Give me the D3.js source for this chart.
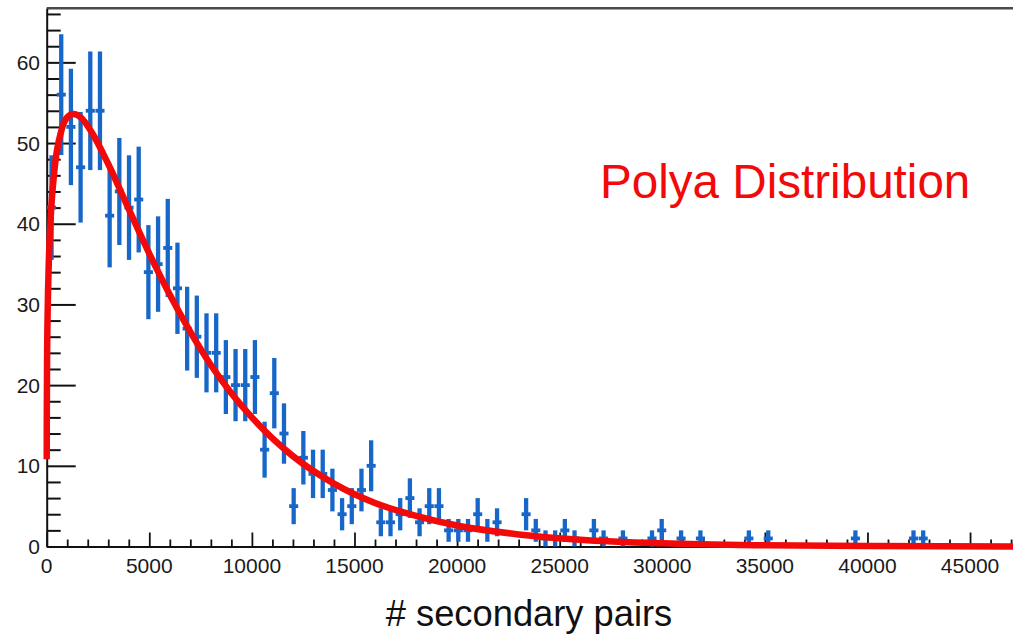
<!DOCTYPE html>
<html>
<head>
<meta charset="utf-8">
<script src="https://cdn.jsdelivr.net/npm/d3@7"></script>
<style>
  html, body { margin: 0; padding: 0; background: #fff; }
  svg { display: block; }
  text { font-family: "Liberation Sans", Arial, Helvetica, sans-serif; }
</style>
</head>
<body>
<div id="chart"></div>
<script>
// ---------- data ----------
const binWidth = 472;            // width of each histogram bin (# secondary pairs)
const binCount = 100;
// counts per bin, bin i covers [i*binWidth, (i+1)*binWidth)
const counts = [
  42, 56, 52, 47, 54, 54, 41, 44, 42, 43,
  34, 35, 37, 32, 27, 26, 24, 24, 21, 20,
  20, 21, 12, 19, 14, 5, 11, 9, 9, 7,
  4, 5, 7, 10, 3, 3, 4, 6, 3, 5,
  5, 2, 2, 2, 4, 2, 3, 0, 0, 4,
  2, 1, 1, 2, 1, 0, 2, 1, 0, 1,
  0, 0, 1, 2, 0, 1, 0, 1, 0, 0,
  0, 0, 1, 0, 1, 0, 0, 0, 0, 0,
  0, 0, 0, 1, 0, 0, 0, 0, 0, 1,
  1, 0, 0, 0, 0, 0, 0, 0, 0, 0
];
// Polya fit curve
const fitX = [1, 5, 20, 50, 100, 200, 400, 700, 1000, 1300, 1700, 2200, 3000, 4000, 5000,
  6000, 7000, 8000, 9000, 10000, 12000, 14000, 16000, 18000, 20000, 23000, 26000,
  30000, 35000, 40000, 47200];
const fitY = [10.8, 16.4, 23.5, 29.5, 35.0, 41.0, 47.2, 51.4, 53.2, 53.6, 53.1, 51.3, 47.4, 41.8, 36.3,
  31.2, 26.6, 22.5, 19.0, 16.0, 11.2, 7.8, 5.4, 3.8, 2.6, 1.5, 0.84,
  0.39, 0.15, 0.06, 0.01];
const xMajorTicks = [0, 5000, 10000, 15000, 20000, 25000, 30000, 35000, 40000, 45000];
const yMajorTicks = [0, 10, 20, 30, 40, 50, 60];
const xTitle = "# secondary pairs";
const fitLabel = "Polya Distribution";

// ---------- layout ----------
const W = 1013, H = 634;
const svg = d3.select("#chart").append("svg").attr("width", W).attr("height", H);

const x = d3.scaleLinear().domain([0, binWidth * binCount]).range([46.7, 1015.2]);
const y = d3.scaleLinear().domain([0, 66.7]).range([546.5, 8.3]);

const blue = "#1767c9";
const red = "#f20a0a";

// top frame line
svg.append("line")
  .attr("x1", x(0)).attr("x2", W).attr("y1", y(66.7)).attr("y2", y(66.7))
  .attr("stroke", "#4a4a4a").attr("stroke-width", 2.5);

// y axis
const yAxisG = svg.append("g").attr("transform", `translate(${x(0)},0)`);
yAxisG.call(d3.axisRight(y).tickValues(d3.range(0, 67, 2)).tickSize(0).tickFormat(""));
yAxisG.select(".domain").attr("stroke", "#111").attr("stroke-width", 2);
yAxisG.selectAll(".tick line")
  .attr("x2", d => (d % 10 === 0 ? 29 : 14))
  .attr("stroke", "#111").attr("stroke-width", 2);
svg.append("g").selectAll("text").data(yMajorTicks).join("text")
  .attr("x", 40).attr("y", d => y(d) + 7.5)
  .attr("text-anchor", "end").attr("font-size", 21).attr("fill", "#1a1a1a")
  .text(d => d);

// x axis
const xAxisG = svg.append("g").attr("transform", `translate(0,${y(0)})`);
xAxisG.call(d3.axisTop(x).tickValues(d3.range(0, 47001, 1000)).tickSize(0).tickFormat(""));
xAxisG.select(".domain").attr("stroke", "#111").attr("stroke-width", 2);
xAxisG.selectAll(".tick line")
  .attr("y2", d => (d % 5000 === 0 ? -14 : -7))
  .attr("stroke", "#111").attr("stroke-width", 1.8);
svg.append("g").selectAll("text").data(xMajorTicks).join("text")
  .attr("x", d => x(d)).attr("y", 573)
  .attr("text-anchor", "middle").attr("font-size", 21).attr("fill", "#1a1a1a")
  .text(d => d);

// axis title
svg.append("text")
  .attr("x", 529).attr("y", 626)
  .attr("text-anchor", "middle").attr("font-size", 36.3).attr("fill", "#111")
  .text(xTitle);

// ---------- histogram error bars ----------
const bins = counts.map((c, i) => ({ c, x0: i * binWidth, x1: (i + 1) * binWidth, xc: (i + 0.5) * binWidth }))
  .filter(d => d.c > 0);
const hg = svg.append("g");
hg.selectAll("line.v").data(bins).join("line").attr("class", "v")
  .attr("x1", d => x(d.xc)).attr("x2", d => x(d.xc))
  .attr("y1", d => y(d.c + Math.sqrt(d.c))).attr("y2", d => y(Math.max(0, d.c - Math.sqrt(d.c))))
  .attr("stroke", blue).attr("stroke-width", 4.3);
hg.selectAll("line.h").data(bins).join("line").attr("class", "h")
  .attr("x1", d => x(d.x0) + 0.3).attr("x2", d => x(d.x1) - 0.3)
  .attr("y1", d => y(d.c)).attr("y2", d => y(d.c))
  .attr("stroke", blue).attr("stroke-width", 3.8);

// ---------- fit curve ----------
const fitPts = fitX.map((v, i) => [v, fitY[i]]);
svg.append("path")
  .datum(fitPts)
  .attr("d", d3.line().x(d => x(d[0])).y(d => y(d[1])).curve(d3.curveMonotoneX))
  .attr("fill", "none").attr("stroke", red).attr("stroke-width", 6.5)
  .attr("stroke-linejoin", "round");

// legend-like label
svg.append("text")
  .attr("x", 600).attr("y", 198)
  .attr("font-size", 47.6).attr("fill", red)
  .text(fitLabel);
</script>
</body>
</html>
